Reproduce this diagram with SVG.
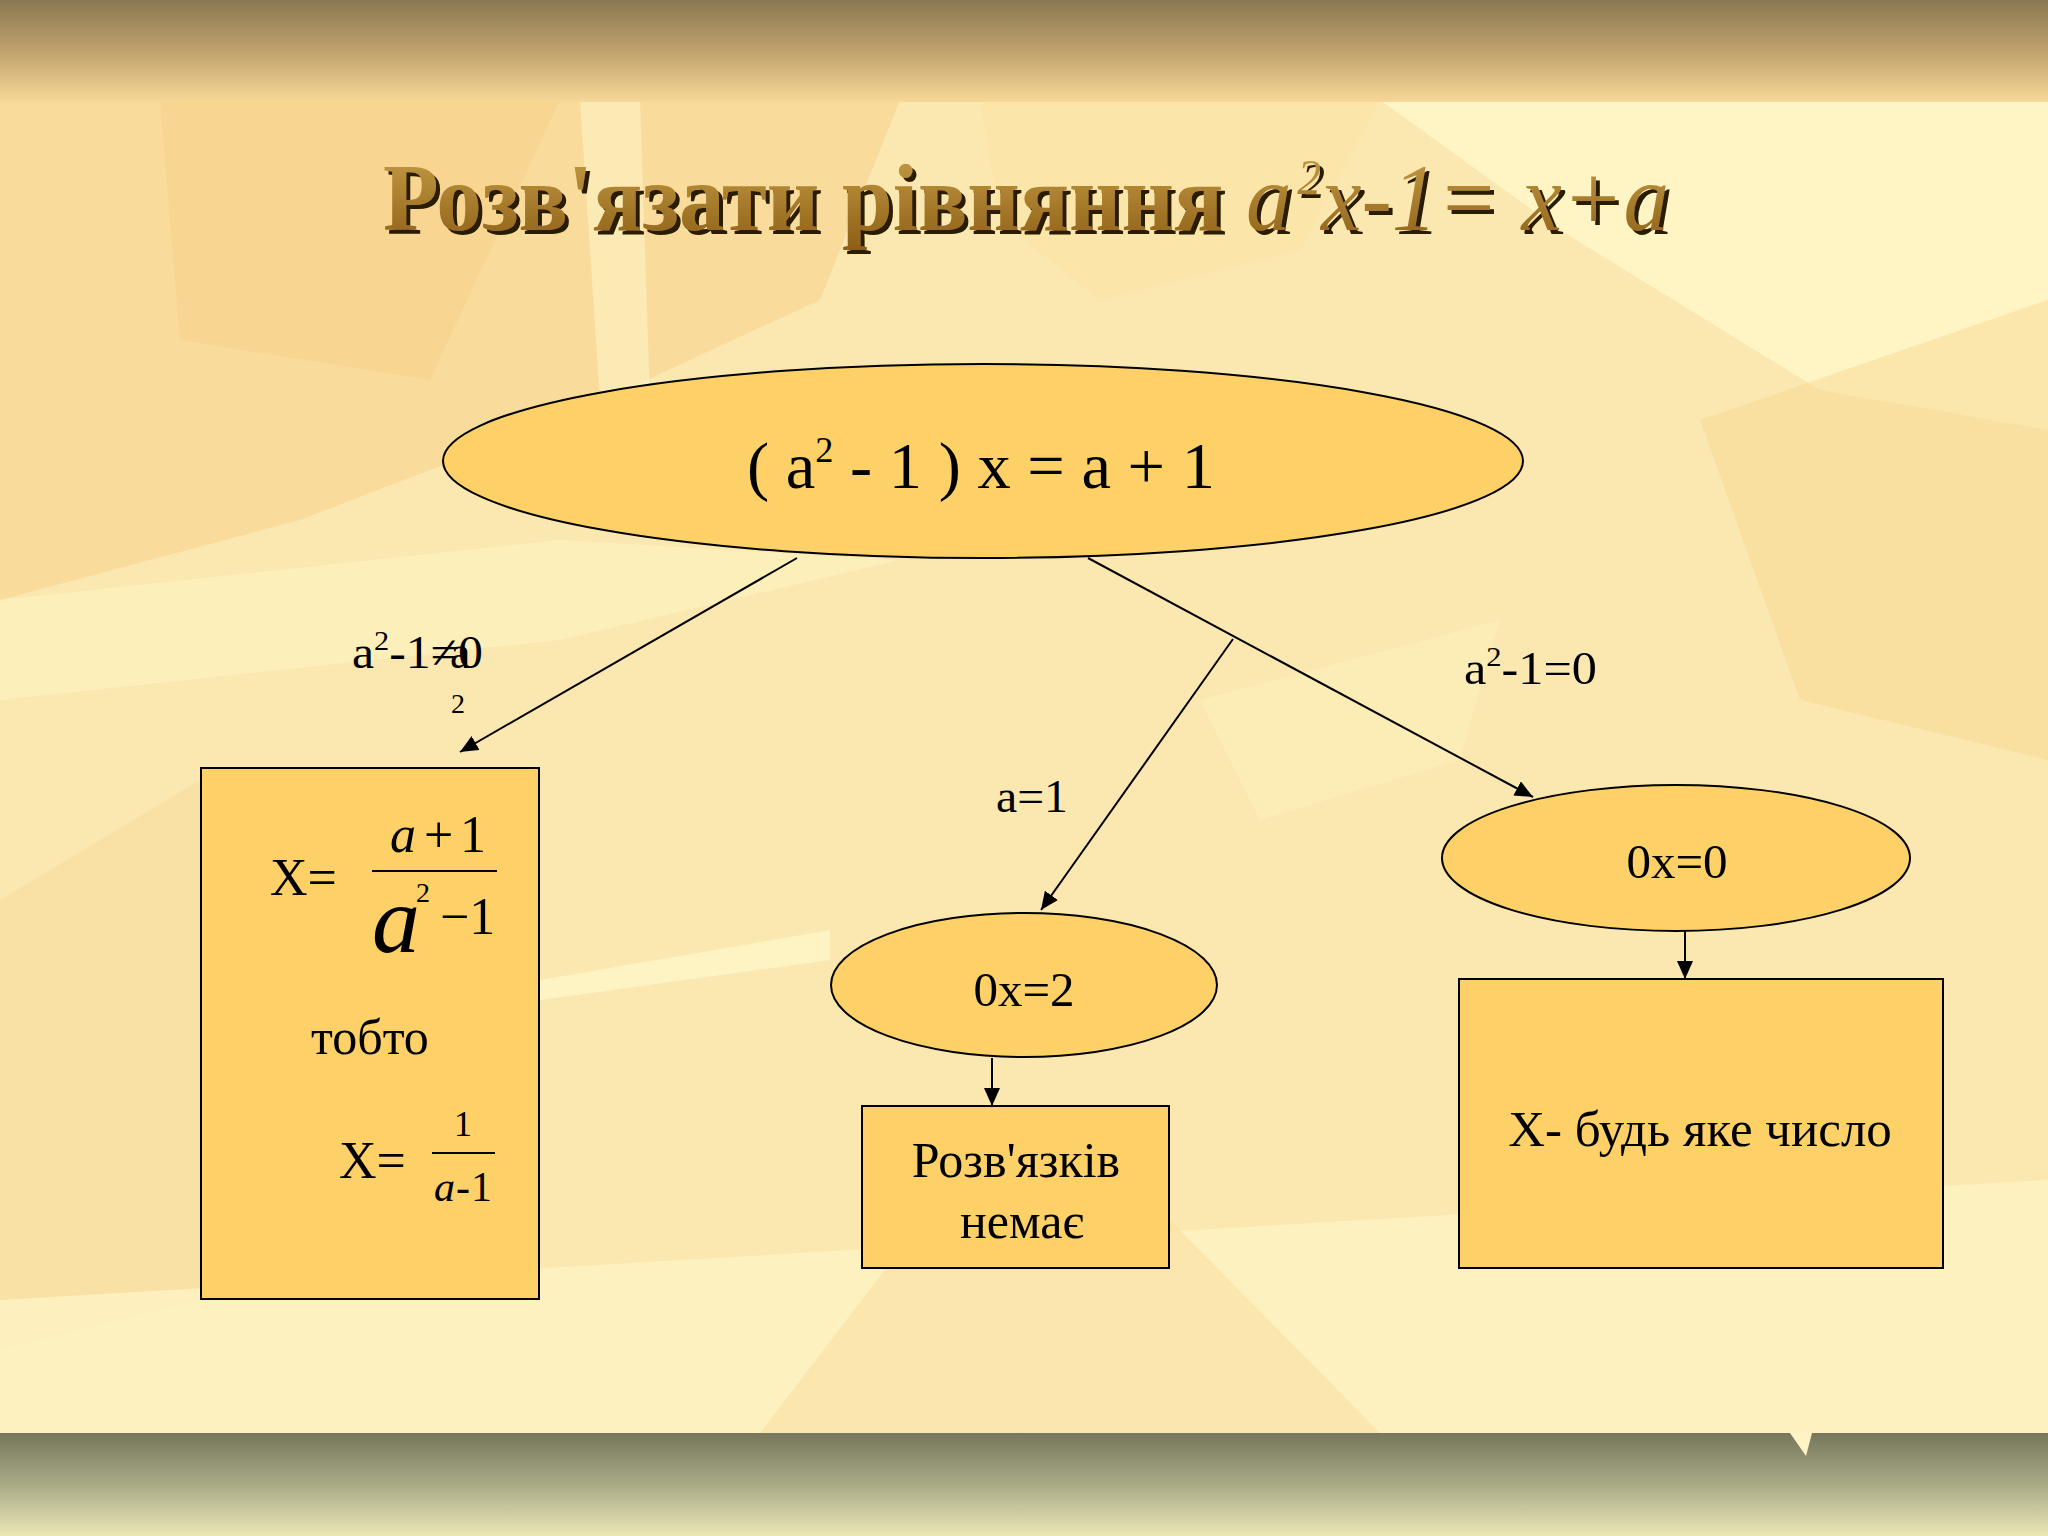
<svg xmlns="http://www.w3.org/2000/svg" width="2048" height="1536" viewBox="0 0 2048 1536">
  <defs>
    <linearGradient id="topBand" x1="0" y1="0" x2="0" y2="1">
      <stop offset="0" stop-color="#8a7852"/>
      <stop offset="0.5" stop-color="#bfa26e"/>
      <stop offset="1" stop-color="#f8d898"/>
    </linearGradient>
    <linearGradient id="botBand" x1="0" y1="0" x2="0" y2="1">
      <stop offset="0" stop-color="#76775c"/>
      <stop offset="0.5" stop-color="#a9aa86"/>
      <stop offset="1" stop-color="#ebe8b6"/>
    </linearGradient>
    <linearGradient id="titleFill" x1="0" y1="0" x2="0" y2="1">
      <stop offset="0" stop-color="#c8a048"/>
      <stop offset="1" stop-color="#8c5e16"/>
    </linearGradient>
    <filter id="shadow" x="-5%" y="-20%" width="110%" height="140%">
      <feDropShadow dx="4" dy="4" stdDeviation="0.6" flood-color="#2a1c00" flood-opacity="1"/>
    </filter>
    <marker id="arrow" markerUnits="userSpaceOnUse" markerWidth="18" markerHeight="16" refX="18" refY="8" orient="auto">
      <path d="M0,0 L18,8 L0,16 Z" fill="#000"/>
    </marker>
  </defs>
  <style>
    .node { fill: #fdd168; stroke: #000; stroke-width: 2; }
    .conn { stroke: #000; stroke-width: 2; fill: none; marker-end: url(#arrow); }
    .t { font-family: "Liberation Serif", "Times New Roman", serif; fill: #000; }
    .it { font-style: italic; }
    .fr { stroke: #000; stroke-width: 2; }
  </style>

  <!-- background -->
  <rect x="0" y="0" width="2048" height="1536" fill="#fbe8b0"/>
  <g id="background-art" stroke="none">
    <polygon points="0,100 900,100 820,300 560,420 300,520 0,600" fill="#f8d38e" opacity="0.6"/>
    <polygon points="160,100 560,100 430,380 180,340" fill="#f6c97e" opacity="0.35"/>
    <polygon points="1380,100 2048,100 2048,430 1820,390 1560,230" fill="#fff6c8" opacity="0.85"/>
    <polygon points="980,100 1380,100 1300,250 1100,300 1000,220" fill="#fbe1a0" opacity="0.5"/>
    <polygon points="0,600 560,540 900,560 560,640 0,700" fill="#fff3c2" opacity="0.6"/>
    <polygon points="1700,420 2048,300 2048,760 1800,700" fill="#f7d690" opacity="0.45"/>
    <polygon points="0,900 200,780 200,1300 0,1350" fill="#f8d896" opacity="0.4"/>
    <polygon points="540,980 830,930 830,960 540,1000" fill="#fff6c8" opacity="0.8"/>
    <polygon points="0,1300 2048,1180 2048,1433 0,1433" fill="#fef3c4" opacity="0.8"/>
    <polygon points="760,1433 900,1250 1150,1200 1380,1433" fill="#fadf9c" opacity="0.55"/>
    <polygon points="1200,700 1500,620 1460,760 1260,820" fill="#fdf0bc" opacity="0.5"/>
    <polygon points="580,100 640,100 650,400 600,400" fill="#fff8d0" opacity="0.5"/>
  </g>
  <rect x="0" y="0" width="2048" height="102" fill="url(#topBand)"/>
  <rect x="0" y="1433" width="2048" height="103" fill="url(#botBand)"/>
  <polygon points="1790,1433 1812,1433 1806,1456" fill="#fef3c4"/>

  <!-- title -->
  <text id="title" class="t" x="383" y="230" font-size="96" textLength="1286" lengthAdjust="spacingAndGlyphs" filter="url(#shadow)" style="fill:url(#titleFill)"><tspan font-weight="bold">Розв'язати рівняння </tspan><tspan class="it">a</tspan><tspan class="it" font-size="50" dx="6" dy="-36">2</tspan><tspan class="it" dy="36">x-1= x+a</tspan></text>

  <!-- connectors -->
  <g id="connectors">
    <line class="conn" x1="797" y1="558" x2="460" y2="752"/>
    <line class="conn" x1="1088" y1="558" x2="1533" y2="797"/>
    <line class="conn" x1="1233" y1="639" x2="1041" y2="910"/>
    <line class="conn" x1="992" y1="1058" x2="992" y2="1106"/>
    <line class="conn" x1="1685" y1="931" x2="1685" y2="979"/>
  </g>

  <!-- connector labels -->
  <g id="label-left">
    <text class="t" x="352" y="668" font-size="46" textLength="131" lengthAdjust="spacingAndGlyphs">a<tspan font-size="28" dy="-18">2</tspan><tspan dy="18">-1≠0</tspan></text>
    <text class="t" x="450" y="668" font-size="46">a</text>
    <text class="t" x="451" y="713" font-size="28">2</text>
  </g>
  <g id="label-mid">
    <text class="t" x="996" y="812" font-size="46" textLength="72" lengthAdjust="spacingAndGlyphs">a=1</text>
  </g>
  <g id="label-right">
    <text class="t" x="1464" y="684" font-size="46" textLength="133" lengthAdjust="spacingAndGlyphs">a<tspan font-size="28" dy="-18">2</tspan><tspan dy="18">-1=0</tspan></text>
  </g>

  <!-- nodes -->
  <g id="node-main">
    <ellipse class="node" cx="983" cy="461" rx="540" ry="97"/>
    <text class="t" x="747" y="488" font-size="66" textLength="468" lengthAdjust="spacingAndGlyphs">( a<tspan font-size="36" dy="-26">2</tspan><tspan dy="26"> - 1 ) x = a + 1</tspan></text>
  </g>

  <g id="node-left-box">
    <rect class="node" x="201" y="768" width="338" height="531"/>
    <text class="t" x="270" y="895" font-size="52">X=</text>
    <text class="t it" x="390" y="852" font-size="52">a</text>
    <text class="t" x="424" y="852" font-size="52">+</text>
    <text class="t" x="460" y="852" font-size="52">1</text>
    <line class="fr" x1="372" y1="871" x2="497" y2="871"/>
    <text class="t it" x="372" y="952" font-size="96">a</text>
    <text class="t" x="416" y="902" font-size="28">2</text>
    <text class="t" x="440" y="934" font-size="52">−1</text>
    <text class="t" x="311" y="1054" font-size="50">тобто</text>
    <text class="t" x="339" y="1178" font-size="52">X=</text>
    <text class="t" x="463" y="1136" font-size="36" text-anchor="middle">1</text>
    <line class="fr" x1="432" y1="1153" x2="495" y2="1153"/>
    <text class="t it" x="434" y="1201" font-size="42">a</text>
    <text class="t" x="456" y="1201" font-size="42">-</text>
    <text class="t" x="471" y="1201" font-size="42">1</text>
  </g>

  <g id="node-0x2">
    <ellipse class="node" cx="1024" cy="985" rx="193" ry="72"/>
    <text class="t" x="1024" y="1006" font-size="49" text-anchor="middle">0x=2</text>
  </g>

  <g id="node-no-roots">
    <rect class="node" x="862" y="1106" width="307" height="162"/>
    <text class="t" x="1016" y="1177" font-size="50" text-anchor="middle">Розв'язків</text>
    <text class="t" x="1022" y="1238" font-size="50" text-anchor="middle">немає</text>
  </g>

  <g id="node-0x0">
    <ellipse class="node" cx="1676" cy="858" rx="234" ry="73"/>
    <text class="t" x="1677" y="878" font-size="49" text-anchor="middle">0x=0</text>
  </g>

  <g id="node-any-number">
    <rect class="node" x="1459" y="979" width="484" height="289"/>
    <text class="t" x="1700" y="1146" font-size="51" text-anchor="middle">X- будь яке число</text>
  </g>
</svg>
